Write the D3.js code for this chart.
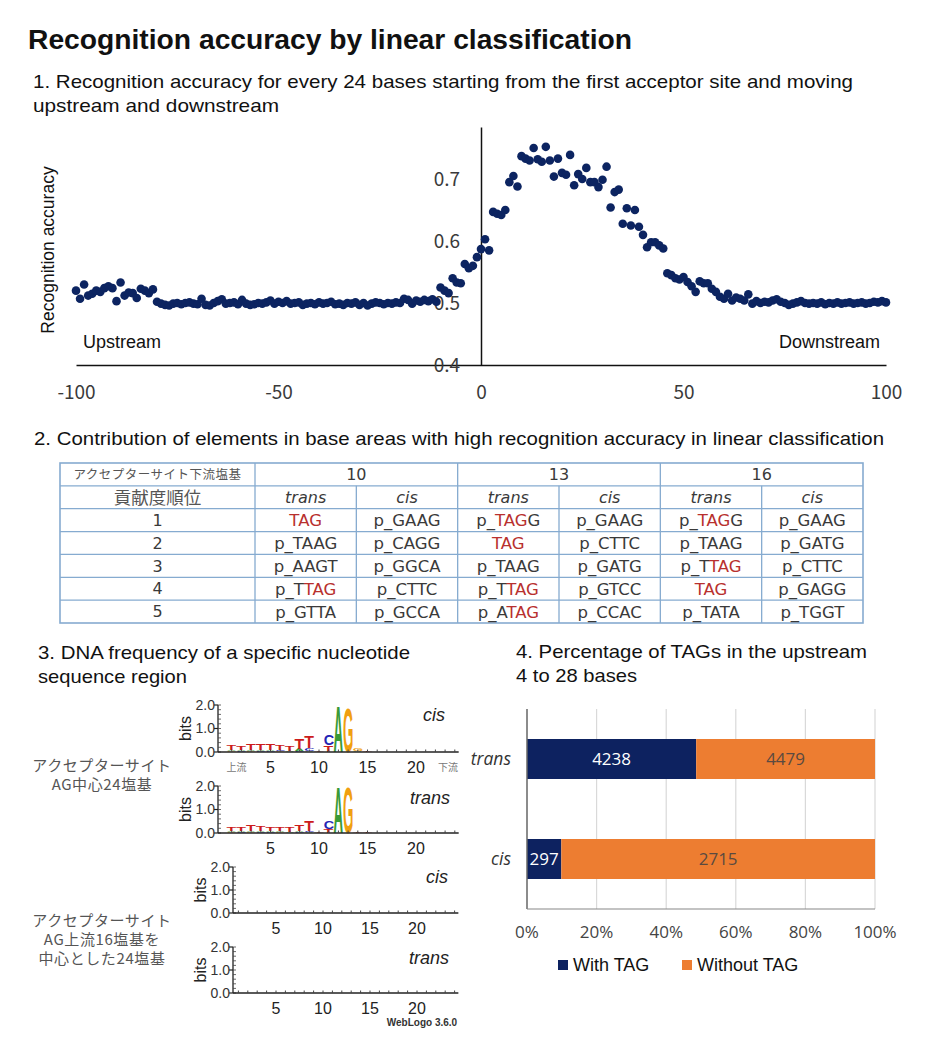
<!DOCTYPE html>
<html lang="en">
<head>
<meta charset="UTF-8">
<script src="https://d3js.org/d3.v7.min.js" charset="utf-8"></script>
<title>Recognition accuracy by linear classification</title>
<style>
    body { margin: 0; background: #fff; }
    svg text { font-family: "Liberation Sans", Arial, sans-serif; }
</style>
</head>
<body>
<div id="chart"></div>
<script>
const width = 930, height = 1046;

// ---- 1. scatter: accuracy per window position ----
const positions = d3.range(-100, 101);
const accuracy = [
    0.520, 0.507, 0.530, 0.512, 0.515, 0.520, 0.518, 0.524, 0.527, 0.524,
    0.503, 0.533, 0.512, 0.517, 0.516, 0.508, 0.523, 0.520, 0.516, 0.522,
    0.502, 0.499, 0.497, 0.496, 0.499, 0.500, 0.498, 0.500, 0.501, 0.499,
    0.498, 0.507, 0.497, 0.496, 0.500, 0.503, 0.506, 0.499, 0.500, 0.501,
    0.498, 0.505, 0.499, 0.497, 0.498, 0.500, 0.499, 0.501, 0.504, 0.499,
    0.502, 0.500, 0.503, 0.499, 0.500, 0.501, 0.497, 0.499, 0.500, 0.498,
    0.501, 0.499, 0.500, 0.502, 0.498, 0.499, 0.497, 0.500, 0.499, 0.501,
    0.497, 0.500, 0.496, 0.499, 0.501, 0.500, 0.498, 0.500, 0.499, 0.501,
    0.500, 0.507, 0.505, 0.499, 0.504, 0.502, 0.505, 0.503, 0.506, 0.502,
    0.525, 0.520, 0.516, 0.540, 0.533, 0.532, 0.563, 0.556, 0.560, 0.574,
    0.587, // x = 0
    0.603, 0.585, 0.647, 0.644, 0.642, 0.650, 0.695, 0.705, 0.688, 0.737,
    0.733, 0.730, 0.750, 0.732, 0.728, 0.752, 0.730, 0.704, 0.733, 0.710,
    0.707, 0.739, 0.690, 0.708, 0.700, 0.718, 0.695, 0.695, 0.687, 0.699,
    0.720, 0.654, 0.679, 0.683, 0.628, 0.653, 0.625, 0.650, 0.623, 0.610,
    0.590, 0.598, 0.598, 0.593, 0.588, 0.548, 0.545, 0.540, 0.538, 0.542,
    0.534, 0.527, 0.518, 0.535, 0.532, 0.532, 0.523, 0.518, 0.510, 0.507,
    0.515, 0.504, 0.509, 0.507, 0.504, 0.514, 0.499, 0.503, 0.500, 0.502,
    0.501, 0.504, 0.506, 0.502, 0.500, 0.497, 0.499, 0.501, 0.503, 0.500,
    0.499, 0.500, 0.499, 0.501, 0.498, 0.500, 0.499, 0.501, 0.499, 0.500,
    0.501, 0.499, 0.500, 0.501, 0.499, 0.500, 0.502, 0.501, 0.503, 0.501
];
const scatterXTicks = [-100, -50, 0, 50, 100];
const scatterYTicks = [0.4, 0.5, 0.6, 0.7];

// ---- 2. contribution table ----
const tableHeadLabel = "アクセプターサイト下流塩基";
const rankLabel = "貢献度順位";
const downstreamBases = ["10", "13", "16"];
const strandLabels = ["trans", "cis"];
const ranks = ["1", "2", "3", "4", "5"];
const contrib10Trans = ["[TAG]", "p_TAAG", "p_AAGT", "p_T[TAG]", "p_GTTA"];
const contrib10Cis = ["p_GAAG", "p_CAGG", "p_GGCA", "p_CTTC", "p_GCCA"];
const contrib13Trans = ["p_[TAG]G", "[TAG]", "p_TAAG", "p_T[TAG]", "p_A[TAG]"];
const contrib13Cis = ["p_GAAG", "p_CTTC", "p_GATG", "p_GTCC", "p_CCAC"];
const contrib16Trans = ["p_[TAG]G", "p_TAAG", "p_T[TAG]", "[TAG]", "p_TATA"];
const contrib16Cis = ["p_GAAG", "p_GATG", "p_CTTC", "p_GAGG", "p_TGGT"];

// ---- 3. sequence logos (letters stacked bottom to top, height in bits) ----
const logoPositions = d3.range(1, 25);
const logoXTicks = [5, 10, 15, 20];
const logoCisAG = [
    [["G", 0.03], ["A", 0.05], ["T", 0.20]],
    [["C", 0.03], ["A", 0.05], ["T", 0.17]],
    [["G", 0.04], ["A", 0.06], ["T", 0.28]],
    [["C", 0.04], ["A", 0.05], ["T", 0.26]],
    [["C", 0.04], ["A", 0.05], ["T", 0.26]],
    [["G", 0.03], ["C", 0.07], ["T", 0.22]],
    [["A", 0.05], ["T", 0.24]],
    [["C", 0.04], ["A", 0.08], ["T", 0.43]],
    [["A", 0.05], ["C", 0.10], ["T", 0.48]],
    [["T", 0.05]],
    [["T", 0.28], ["C", 0.45]],
    [["A", 2.00]],
    [["G", 1.93]],
    [["A", 0.04], ["G", 0.08]],
    [["T", 0.04]],
    [["T", 0.02]], [["T", 0.02]], [["T", 0.02]], [["T", 0.02]],
    [["T", 0.02]], [["T", 0.02]], [["T", 0.02]], [["T", 0.02]], [["T", 0.02]]
];
const logoTransAG = [
    [["G", 0.03], ["A", 0.05], ["T", 0.16]],
    [["C", 0.03], ["A", 0.05], ["T", 0.19]],
    [["G", 0.04], ["A", 0.05], ["T", 0.25]],
    [["C", 0.03], ["A", 0.05], ["T", 0.20]],
    [["C", 0.03], ["A", 0.05], ["T", 0.19]],
    [["G", 0.03], ["A", 0.04], ["T", 0.17]],
    [["A", 0.05], ["T", 0.23]],
    [["C", 0.04], ["A", 0.05], ["T", 0.29]],
    [["A", 0.04], ["C", 0.06], ["T", 0.42]],
    [["T", 0.03]],
    [["T", 0.17], ["C", 0.33]],
    [["A", 2.00]],
    [["G", 1.95]],
    [["T", 0.03]], [["T", 0.04]], [["T", 0.02]], [["T", 0.02]], [["T", 0.02]],
    [["T", 0.02]], [["T", 0.02]], [["T", 0.02]], [["T", 0.02]], [["T", 0.02]], [["T", 0.02]]
];
const logoCisUp16 = [];
const logoTransUp16 = [];
const baseColors = { A: "#3a9a36", C: "#2424b4", G: "#f0a010", T: "#cc1c1c" };

// ---- 4. TAG share ----
const strands = ["trans", "cis"];
const withTAG = [4238, 297];
const withoutTAG = [4479, 2715];
const pctTicks = [0, 0.2, 0.4, 0.6, 0.8, 1];

const svg = d3.select("#chart").append("svg")
    .attr("width", width)
    .attr("height", height);

// heading lines (textLength keeps the widths of the picture)
const heading = (txt, hx, hy, len, size, bold) => svg.append("text")
    .attr("x", hx).attr("y", hy).attr("dy", "0.35em")
    .attr("font-size", size).attr("font-weight", bold ? "bold" : "normal").attr("fill", "#111")
    .attr("textLength", len).attr("lengthAdjust", "spacingAndGlyphs")
    .text(txt);

heading("Recognition accuracy by linear classification", 28, 40, 604, 27, true);
heading("1. Recognition accuracy for every 24 bases starting from the first acceptor site and moving", 33, 81, 820, 19);
heading("upstream and downstream", 33, 105, 246, 19);

// ================= scatter =================
const x = d3.scaleLinear().domain([-100, 100]).range([76, 886]);
const y = d3.scaleLinear().domain([0.4, 0.784]).range([365, 127]);
const cjk = "'Noto Sans CJK JP', sans-serif";

const gx = svg.append("g").attr("transform", "translate(0," + y(0.4) + ")")
    .call(d3.axisBottom(x).tickValues(scatterXTicks).tickSize(0).tickFormat((d) => String(d)));
gx.select(".domain").attr("stroke", "#111").attr("stroke-width", 1.5);
gx.selectAll("text").attr("y", 27).attr("dy", "0.35em")
    .attr("font-size", 19).attr("fill", "#3a3a3a")
    .style("font-family", cjk);

const gy = svg.append("g").attr("transform", "translate(" + x(0) + ",0)")
    .call(d3.axisLeft(y).tickValues(scatterYTicks).tickSize(0).tickPadding(21).tickFormat(d3.format(".1f")));
gy.select(".domain").attr("stroke", "#111").attr("stroke-width", 1.5);
gy.selectAll("text").attr("font-size", 19).attr("fill", "#3a3a3a")
    .style("font-family", cjk);

svg.append("g").selectAll("circle")
    .data(positions)
    .enter()
    .append("circle")
    .attr("cx", (d) => x(d))
    .attr("cy", (d, i) => y(accuracy[i]))
    .attr("r", 4.3)
    .attr("fill", "#0c2461");

svg.append("text").attr("transform", "translate(48,250) rotate(-90)")
    .attr("text-anchor", "middle").attr("dy", "0.35em")
    .attr("font-size", 17.5).attr("fill", "#111").text("Recognition accuracy");
svg.append("text").attr("x", 83).attr("y", 342).attr("dy", "0.35em")
    .attr("font-size", 18).attr("fill", "#111").text("Upstream");
svg.append("text").attr("x", 880).attr("y", 342).attr("dy", "0.35em")
    .attr("text-anchor", "end").attr("font-size", 18).attr("fill", "#111").text("Downstream");

// ================= table =================
heading("2. Contribution of elements in base areas with high recognition accuracy in linear classification", 34, 438, 850, 19);

const colX = d3.scaleLinear().domain([0, 6]).range([255, 863]);
const rowY = d3.scaleLinear().domain([0, 7]).range([463, 623]);
const tableLeft = 60;
const lineColor = "#86abd0";
const table = svg.append("g");

table.append("rect").attr("x", tableLeft).attr("y", rowY(0))
    .attr("width", colX(6) - tableLeft).attr("height", rowY(7) - rowY(0))
    .attr("fill", "none").attr("stroke", lineColor).attr("stroke-width", 1.6);
table.selectAll("line.h").data(d3.range(1, 7)).enter().append("line")
    .attr("x1", tableLeft).attr("x2", colX(6))
    .attr("y1", (d) => rowY(d)).attr("y2", (d) => rowY(d))
    .attr("stroke", lineColor).attr("stroke-width", 1.3);
table.selectAll("line.v").data(d3.range(0, 6)).enter().append("line")
    .attr("x1", (d) => colX(d)).attr("x2", (d) => colX(d))
    .attr("y1", (d) => (d % 2 === 0 ? rowY(0) : rowY(1))).attr("y2", rowY(7))
    .attr("stroke", lineColor).attr("stroke-width", 1.3);

const cellText = (cx, cy, size, family) => table.append("text")
    .attr("x", cx).attr("y", cy).attr("dy", "0.36em")
    .attr("text-anchor", "middle").attr("font-size", size).attr("fill", "#3a3a3a")
    .style("font-family", family);

const rowMid = (r) => (rowY(r) + rowY(r + 1)) / 2;
const colMid = (c) => (colX(c) + colX(c + 1)) / 2;
const latin = "'DejaVu Sans', sans-serif";

cellText((tableLeft + colX(0)) / 2, rowMid(0), 12.5, cjk).attr("fill", "#555")
    .attr("letter-spacing", 0.5).text(tableHeadLabel);
cellText((tableLeft + colX(0)) / 2, rowMid(1), 17.5, cjk).attr("fill", "#555").text(rankLabel);
downstreamBases.forEach((b, i) => {
    cellText(colX(2 * i + 1), rowMid(0), 16, latin).text(b);
    strandLabels.forEach((s, j) => {
        cellText(colMid(2 * i + j), rowMid(1), 16, latin).attr("font-style", "italic").text(s);
    });
});
ranks.forEach((r, i) => {
    cellText((tableLeft + colX(0)) / 2, rowMid(i + 2), 16, latin).text(r);
});

const columns = [contrib10Trans, contrib10Cis, contrib13Trans, contrib13Cis, contrib16Trans, contrib16Cis];
columns.forEach((col, c) => {
    col.forEach((str, r) => {
        const t = cellText(colMid(c), rowMid(r + 2), 16.5, latin);
        str.split(/(\[[^\]]+\])/).filter((p) => p.length).forEach((part) => {
            const red = part.startsWith("[");
            t.append("tspan")
                .attr("fill", red ? "#b8302e" : "#3a3a3a")
                .text(red ? part.slice(1, -1) : part);
        });
    });
});

// ================= sequence logos =================
heading("3. DNA frequency of a specific nucleotide", 38, 652, 372, 19);
heading("sequence region", 38, 676, 149, 19);

const sideLabels = [
    { y: 766, lines: ["アクセプターサイト", "AG中心24塩基"] },
    { y: 921, lines: ["アクセプターサイト", "AG上流16塩基を", "中心とした24塩基"] }
];
sideLabels.forEach((s) => {
    s.lines.forEach((l, i) => {
        svg.append("text").attr("x", 102).attr("y", s.y + i * 19).attr("dy", "0.35em")
            .attr("text-anchor", "middle").attr("font-size", 15).attr("fill", "#555")
            .attr("letter-spacing", 0.6).style("font-family", cjk).text(l);
    });
});

// ink widths of bold glyphs, in em
const glyphInk = { A: 0.70, C: 0.64, G: 0.69, T: 0.58 };

function drawLogo(data, cfg) {
    const g = svg.append("g");
    const lx = d3.scaleLinear().domain([0, 24]).range([cfg.x0, cfg.x0 + 24 * cfg.step]);
    const ly = d3.scaleLinear().domain([0, 2]).range([cfg.y0, cfg.y0 - cfg.h]);

    data.forEach((stack, i) => {
        let base = 0;
        const pos = logoPositions[i];
        const w = cfg.step * 0.95;
        stack.forEach(([letter, bits]) => {
            const yb = ly(base), yt = ly(base + bits);
            const sx = w / (glyphInk[letter] * 100);
            g.append("text")
                .attr("transform", "translate(" + (lx(pos) - w / 2 - 3 * sx) + "," + yb + ") scale(" +
                    sx + "," + ((yb - yt) / 71.6) + ")")
                .attr("font-size", 100).attr("font-weight", "bold")
                .attr("fill", baseColors[letter]).text(letter);
            base += bits;
        });
    });

    // y axis
    g.append("line").attr("x1", cfg.axisX).attr("x2", cfg.axisX)
        .attr("y1", ly(0)).attr("y2", ly(2)).attr("stroke", "#222").attr("stroke-width", 1.3);
    g.selectAll("line.minor").data(d3.range(0, 2.01, 0.2)).enter().append("line")
        .attr("x1", cfg.axisX).attr("x2", cfg.axisX + 3)
        .attr("y1", (d) => ly(d)).attr("y2", (d) => ly(d))
        .attr("stroke", "#444").attr("stroke-width", 0.8);
    [0, 1, 2].forEach((v) => {
        g.append("line").attr("x1", cfg.axisX - 4).attr("x2", cfg.axisX)
            .attr("y1", ly(v)).attr("y2", ly(v)).attr("stroke", "#222").attr("stroke-width", 1.2);
        g.append("text").attr("x", cfg.axisX - 3).attr("y", ly(v)).attr("dy", "0.35em")
            .attr("text-anchor", "end").attr("font-size", 14).attr("fill", "#333")
            .text(d3.format(".1f")(v));
    });
    g.append("text").attr("transform", "translate(" + (cfg.axisX - 33) + "," + ly(1) + ") rotate(-90)")
        .attr("text-anchor", "middle").attr("dy", "0.35em").attr("font-size", 16).attr("fill", "#222")
        .text("bits");

    // x axis
    g.append("line").attr("x1", cfg.axisX).attr("x2", lx(24.4))
        .attr("y1", cfg.y0).attr("y2", cfg.y0).attr("stroke", "#222").attr("stroke-width", 1.3);
    g.selectAll("line.xt").data(logoPositions).enter().append("line")
        .attr("x1", (d) => lx(d)).attr("x2", (d) => lx(d))
        .attr("y1", cfg.y0).attr("y2", cfg.y0 - 2.5).attr("stroke", "#444").attr("stroke-width", 1);
    g.selectAll("text.xl").data(logoXTicks).enter().append("text")
        .attr("x", (d) => lx(d)).attr("y", cfg.y0 + 15).attr("dy", "0.35em")
        .attr("text-anchor", "middle").attr("font-size", 16).attr("fill", "#222")
        .text((d) => d);
    if (cfg.ends) {
        g.append("text").attr("x", lx(1.5)).attr("y", cfg.y0 + 15).attr("dy", "0.35em")
            .attr("text-anchor", "middle").attr("font-size", 10).attr("fill", "#777")
            .style("font-family", cjk).text("上流");
        g.append("text").attr("x", lx(23.3)).attr("y", cfg.y0 + 15).attr("dy", "0.35em")
            .attr("text-anchor", "middle").attr("font-size", 10).attr("fill", "#777")
            .style("font-family", cjk).text("下流");
    }
    g.append("text").attr("x", cfg.labelX).attr("y", cfg.labelY).attr("dy", "0.35em")
        .attr("text-anchor", "end").attr("font-size", 18).attr("font-style", "italic")
        .attr("fill", "#222").text(cfg.label);
}

drawLogo(logoCisAG, { axisX: 218, x0: 222, step: 9.7, y0: 752, h: 47, label: "cis", labelX: 445, labelY: 715, ends: true });
drawLogo(logoTransAG, { axisX: 218, x0: 222, step: 9.7, y0: 833, h: 47, label: "trans", labelX: 450, labelY: 798 });
drawLogo(logoCisUp16, { axisX: 233, x0: 229, step: 9.4, y0: 913, h: 46, label: "cis", labelX: 448, labelY: 877 });
drawLogo(logoTransUp16, { axisX: 233, x0: 229, step: 9.4, y0: 993, h: 46, label: "trans", labelX: 449, labelY: 958 });
svg.append("text").attr("x", 422).attr("y", 1022).attr("dy", "0.35em")
    .attr("text-anchor", "middle").attr("font-size", 10).attr("font-weight", "bold")
    .attr("fill", "#333").text("WebLogo 3.6.0");

// ================= stacked bars =================
heading("4. Percentage of TAGs in the upstream", 516, 651, 351, 19);
heading("4 to 28 bases", 516, 675, 121, 19);

const bx = d3.scaleLinear().domain([0, 1]).range([527, 875]);
const by = d3.scaleBand().domain(strands).range([709, 909]).paddingInner(0.6).paddingOuter(0.3);
const bars = svg.append("g");
const plex = "'Open Sans', sans-serif";

bars.selectAll("line.grid").data(pctTicks.slice(1)).enter().append("line")
    .attr("x1", (d) => bx(d)).attr("x2", (d) => bx(d))
    .attr("y1", 709).attr("y2", 909).attr("stroke", "#d9d9d9").attr("stroke-width", 1.2);

const barRows = strands.map((s, i) => {
    const total = withTAG[i] + withoutTAG[i];
    return { strand: s, p: withTAG[i] / total, a: withTAG[i], b: withoutTAG[i] };
});
bars.selectAll("rect.with").data(barRows).enter().append("rect")
    .attr("x", bx(0)).attr("y", (d) => by(d.strand))
    .attr("width", (d) => bx(d.p) - bx(0)).attr("height", by.bandwidth())
    .attr("fill", "#0d2260");
bars.selectAll("rect.without").data(barRows).enter().append("rect")
    .attr("x", (d) => bx(d.p)).attr("y", (d) => by(d.strand))
    .attr("width", (d) => bx(1) - bx(d.p)).attr("height", by.bandwidth())
    .attr("fill", "#ed7d31");
bars.selectAll("text.a").data(barRows).enter().append("text")
    .attr("x", (d) => (bx(0) + bx(d.p)) / 2).attr("y", (d) => by(d.strand) + by.bandwidth() / 2)
    .attr("dy", "0.35em").attr("text-anchor", "middle").attr("font-size", 17)
    .attr("fill", "#fff").style("font-family", plex).text((d) => d.a);
bars.selectAll("text.b").data(barRows).enter().append("text")
    .attr("x", (d) => (bx(d.p) + bx(1)) / 2).attr("y", (d) => by(d.strand) + by.bandwidth() / 2)
    .attr("dy", "0.35em").attr("text-anchor", "middle").attr("font-size", 17)
    .attr("fill", "#5a4a40").style("font-family", plex).text((d) => d.b);

bars.append("line").attr("x1", bx(0)).attr("x2", bx(0)).attr("y1", 709).attr("y2", 909)
    .attr("stroke", "#666").attr("stroke-width", 1.5);
bars.append("line").attr("x1", bx(0)).attr("x2", bx(1)).attr("y1", 909).attr("y2", 909)
    .attr("stroke", "#888").attr("stroke-width", 1.2);

bars.selectAll("text.cat").data(strands).enter().append("text")
    .attr("x", 511).attr("y", (d) => by(d) + by.bandwidth() / 2).attr("dy", "0.35em")
    .attr("text-anchor", "end").attr("font-size", 17.5).attr("font-style", "italic")
    .attr("fill", "#333").style("font-family", plex).text((d) => d);
bars.selectAll("text.tick").data(pctTicks).enter().append("text")
    .attr("x", (d) => bx(d)).attr("y", 932).attr("dy", "0.35em")
    .attr("text-anchor", "middle").attr("font-size", 17).attr("fill", "#444")
    .style("font-family", plex).text(d3.format(".0%"));

const legend = [
    { label: "With TAG", color: "#0d2260", x: 558 },
    { label: "Without TAG", color: "#ed7d31", x: 682 }
];
legend.forEach((l) => {
    svg.append("rect").attr("x", l.x).attr("y", 960).attr("width", 10).attr("height", 10).attr("fill", l.color);
    svg.append("text").attr("x", l.x + 15).attr("y", 965).attr("dy", "0.35em")
        .attr("font-size", 18).attr("fill", "#111").text(l.label);
});
</script>
</body>
</html>
